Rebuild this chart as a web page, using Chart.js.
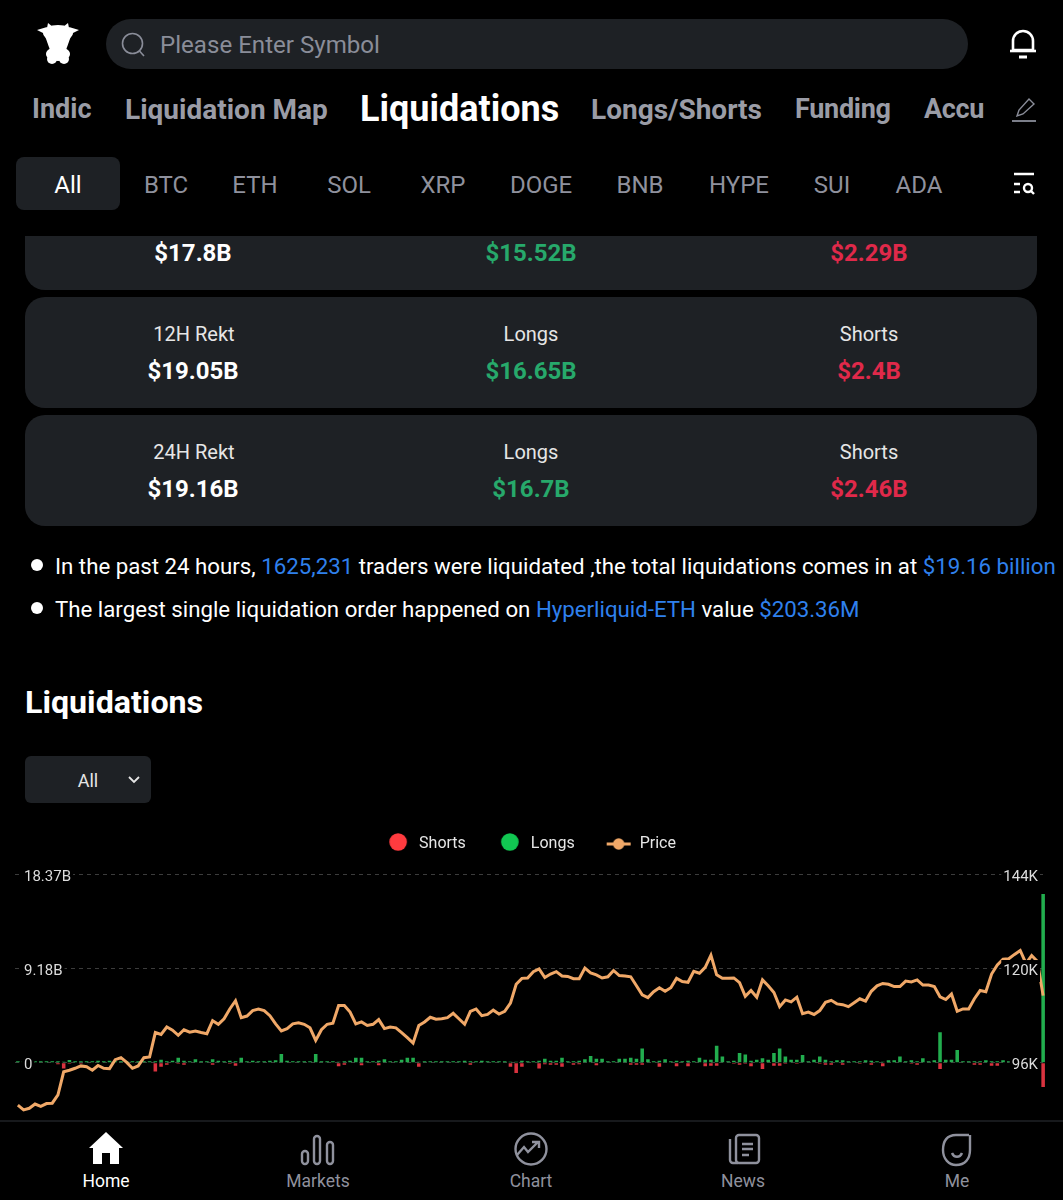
<!DOCTYPE html>
<html>
<head>
<meta charset="utf-8">
<title>Liquidations</title>
<script src="https://cdn.jsdelivr.net/npm/chart.js@4"></script>
<style>
  html, body { margin: 0; padding: 0; background: #000; }
  body { position: relative; width: 1063px; height: 1200px; overflow: hidden; font-family: Roboto, sans-serif; color: #fff; }
  .t { position: absolute; white-space: nowrap; transform: translateY(-50%); }
  .c { position: absolute; white-space: nowrap; transform: translate(-50%, -50%); }
  .box { position: absolute; background: #1e2125; }
  .tab { font-size: 27px; font-weight: 700; color: #9a9ca6; top: 109px; }
  .coin { font-size: 24px; color: #8f919d; top: 185px; }
  .lbl { font-size: 20px; color: #e6e6e6; }
  .val { font-size: 24px; font-weight: 700; }
  .green { color: #27a96b; }
  .red { color: #e0294a; }
  .note { font-size: 22.25px; left: 55px; }
  .note b { font-weight: 400; color: #2f80ed; }
  .dot { position: absolute; left: 31px; width: 12px; height: 12px; border-radius: 50%; background: #fff; }
  .nav { font-size: 17.5px; color: #8f919d; top: 1181px; }
  svg { position: absolute; }
  #wrap { position: absolute; left: 0; top: 800px; width: 1063px; height: 400px; }
  #navbar { position: absolute; left: 0; top: 1120px; width: 1063px; height: 80px; background: #000; border-top: 2px solid #17191c; box-sizing: border-box; }
</style>
</head>
<body>

<svg style="left:34px;top:20px" width="48" height="48" viewBox="0 0 48 48" fill="#fff">
  <ellipse cx="24" cy="13" rx="15" ry="8"/>
  <path d="M3 10 L13 7 L11 14 Z M45 10 L35 7 L37 14 Z M14 3 L19 7 L13 8 Z M34 3 L29 7 L35 8 Z"/>
  <path d="M11 16 L37 16 L32 30 L16 30 Z"/>
  <ellipse cx="24" cy="34" rx="12" ry="7"/>
  <ellipse cx="18" cy="39" rx="5" ry="5"/>
  <ellipse cx="30" cy="39" rx="5" ry="5"/>
</svg>

<div class="box" style="left:106px;top:19px;width:862px;height:50px;border-radius:25px"></div>
<svg style="left:120px;top:31px" width="26" height="26" viewBox="0 0 26 26" fill="none" stroke="#8a8d99" stroke-width="1.6">
  <circle cx="12.5" cy="12.5" r="10"/><path d="M19.5 20 L24 25"/>
</svg>
<div class="t" style="left:160px;top:45px;font-size:24.1px;color:#8a8d99">Please Enter Symbol</div>
<svg style="left:1008px;top:28px" width="30" height="32" viewBox="0 0 30 32" fill="none" stroke="#fff" stroke-width="2.6">
  <path d="M5 22 V13 a10 10 0 0 1 20 0 V22 Z" stroke-linejoin="round"/><path d="M2 23 H28"/><path d="M11 29 H19" stroke-width="3"/>
</svg>

<div class="t tab" style="left:32px">Indic</div>
<div class="t tab" style="left:125px;font-size:28px">Liquidation Map</div>
<div class="t" style="left:360px;top:109px;font-size:36px;font-weight:700;color:#fff">Liquidations</div>
<div class="t tab" style="left:591px;font-size:28px">Longs/Shorts</div>
<div class="t tab" style="left:795px;letter-spacing:-0.3px">Funding</div>
<div class="t tab" style="left:924px;letter-spacing:-0.3px">Accu</div>
<svg style="left:1011px;top:97px" width="26" height="26" viewBox="0 0 26 26" fill="none" stroke="#8a8d99" stroke-width="1.4">
  <path d="M6 19 L8 13 L18 2 L23 7 L12 17 Z"/><path d="M1 24 H25" stroke-width="1.8"/>
</svg>

<div class="box" style="left:16px;top:157px;width:104px;height:53px;border-radius:8px"></div>
<div class="c" style="left:68px;top:185px;font-size:24px;color:#fff">All</div>
<div class="c coin" style="left:166px">BTC</div>
<div class="c coin" style="left:255px">ETH</div>
<div class="c coin" style="left:349px">SOL</div>
<div class="c coin" style="left:443px">XRP</div>
<div class="c coin" style="left:541px">DOGE</div>
<div class="c coin" style="left:640px">BNB</div>
<div class="c coin" style="left:739px">HYPE</div>
<div class="c coin" style="left:832px">SUI</div>
<div class="c coin" style="left:919px">ADA</div>
<svg style="left:1012px;top:172px" width="26" height="24" viewBox="0 0 26 24" fill="none" stroke="#fff" stroke-width="2.4">
  <path d="M2 2 H22 M2 12 H8 M2 20 H8"/><circle cx="16" cy="16" r="4"/><path d="M19 19 L22 22"/>
</svg>

<div class="box" style="left:25px;top:236px;width:1012px;height:54px;border-radius:0 0 20px 20px"></div>
<div class="c val" style="left:193px;top:253px">$17.8B</div>
<div class="c val green" style="left:531px;top:253px">$15.52B</div>
<div class="c val red" style="left:869px;top:253px">$2.29B</div>

<div class="box" style="left:25px;top:297px;width:1012px;height:111px;border-radius:20px"></div>
<div class="c lbl" style="left:194px;top:334px">12H Rekt</div>
<div class="c lbl" style="left:531px;top:334px">Longs</div>
<div class="c lbl" style="left:869px;top:334px">Shorts</div>
<div class="c val" style="left:193px;top:371px">$19.05B</div>
<div class="c val green" style="left:531px;top:371px">$16.65B</div>
<div class="c val red" style="left:869px;top:371px">$2.4B</div>

<div class="box" style="left:25px;top:415px;width:1012px;height:111px;border-radius:20px"></div>
<div class="c lbl" style="left:194px;top:452px">24H Rekt</div>
<div class="c lbl" style="left:531px;top:452px">Longs</div>
<div class="c lbl" style="left:869px;top:452px">Shorts</div>
<div class="c val" style="left:193px;top:489px">$19.16B</div>
<div class="c val green" style="left:531px;top:489px">$16.7B</div>
<div class="c val red" style="left:869px;top:489px">$2.46B</div>

<div class="dot" style="top:559px"></div>
<div class="t note" style="top:566px">In the past 24 hours, <b>1625,231</b> traders were liquidated ,the total liquidations comes in at <b>$19.16 billion</b></div>
<div class="dot" style="top:602px"></div>
<div class="t note" style="top:609px">The largest single liquidation order happened on <b>Hyperliquid-ETH</b> value <b>$203.36M</b></div>

<div class="t" style="left:25px;top:702px;font-size:32.2px;font-weight:700">Liquidations</div>

<div id="wrap"><canvas id="chart"></canvas></div>

<div class="box" style="left:25px;top:756px;width:126px;height:47px;border-radius:6px"></div>
<div class="c" style="left:88px;top:780px;font-size:18px;color:#e6e6e6">All</div>
<svg style="left:128px;top:776px" width="12" height="8" viewBox="0 0 12 8" fill="none" stroke="#e6e6e6" stroke-width="1.8"><path d="M1 1 L6 6 L11 1"/></svg>

<div id="navbar"></div>
<svg style="left:88px;top:1131px" width="36" height="34" viewBox="0 0 36 34" fill="#fff">
  <path d="M18 1 L35 17 L31 17 L31 33 L22 33 L22 22 L14 22 L14 33 L5 33 L5 17 L1 17 Z"/>
</svg>
<svg style="left:300px;top:1134px" width="36" height="32" viewBox="0 0 36 32" fill="none" stroke="#8f919d" stroke-width="2.4">
  <rect x="2" y="17" width="6" height="13" rx="3"/><rect x="14" y="2" width="6" height="28" rx="3"/><rect x="27" y="8" width="6" height="22" rx="3"/>
</svg>
<svg style="left:513px;top:1131px" width="36" height="36" viewBox="0 0 36 36" fill="none" stroke="#8f919d" stroke-width="2.4">
  <circle cx="18" cy="18" r="15.5"/><path d="M4 24 L11 16 L15 21 L25 11 M19 11 H26 V17"/>
</svg>
<svg style="left:727px;top:1133px" width="36" height="32" viewBox="0 0 36 32" fill="none" stroke="#8f919d" stroke-width="2.4">
  <rect x="9" y="2" width="23" height="28" rx="3"/><path d="M3 6 V27 a3 3 0 0 0 3 3 H11 M15 11 H26 M15 16 H26 M15 22 H22"/>
</svg>
<svg style="left:941px;top:1133px" width="32" height="34" viewBox="0 0 32 34" fill="none" stroke="#8f919d" stroke-width="2.4">
  <path d="M28 2 H15 C6 2 2 8 2 17 C2 26 8 32 15 32 C24 32 29 26 29 17 V2"/><path d="M11 20 C13 25 19 25 21 20"/>
</svg>
<div class="c nav" style="left:106px;color:#fff">Home</div>
<div class="c nav" style="left:318px">Markets</div>
<div class="c nav" style="left:531px">Chart</div>
<div class="c nav" style="left:743px">News</div>
<div class="c nav" style="left:957px">Me</div>

<script>
// billions
const longs = [
  .15, .15, .15, .15, .15, .15, .15, .15, .1, .26,
  .15, .15, .15, .15, .2, .15, .2, .15, .15, .15,
  .15, .15, .15, .15, .15, .3, .15, .2, .5, .2,
  .15, .35, .15, .15, .35, .2, .15, .2, .15, .5,
  .15, .2, .15, .15, .2, .25, .85, .2, .15, .15,
  .15, .15, .85, .15, .15, .15, .1, .15, .2, .5,
  .5, .15, .15, .2, .35, .15, .15, .3, .5, .5,
  .1, .15, .15, .15, .15, .15, .15, .15, .2, .15,
  .15, .2, .15, .15, .15, .15, .1, .1, .2, .15,
  .15, .2, .4, .2, .2, .5, .15, .15, .2, .35,
  .65, .4, .4, .15, .15, .4, .4, .5, .4, 1.4,
  .35, .15, .2, .35, .15, .2, .15, .2, .15, .5,
  .3, .3, 1.65, .6, .15, .2, .95, .8, .2, .3,
  .45, .3, .95, 1.4, .6, .3, .3, .75, .15, .3,
  .6, .3, .15, .25, .25, .15, .15, .15, .25, .2,
  .15, .1, .25, .25, .6, .15, .25, .15, .45, .15,
  .25, 2.98, .3, .3, 1.25, .15, .15, .15, .15, .25,
  .15, .15, .25, .15, .15, .15, .15, .15, .6, 16.45
]

const shorts = [
  0, 0, 0, 0, 0, 0, 0, -.15, -.55, -.1,
  0, -.1, 0, 0, 0, 0, 0, 0, 0, 0,
  0, 0, 0, 0, -.85, -.4, -.2, 0, -.1, -.2,
  0, 0, 0, 0, -.2, 0, 0, -.1, -.3, 0,
  0, 0, 0, 0, 0, 0, 0, 0, 0, 0,
  0, 0, 0, 0, 0, 0, -.35, -.2, 0, 0,
  -.25, 0, 0, -.25, 0, 0, 0, 0, 0, 0,
  -.4, 0, 0, 0, 0, 0, 0, 0, 0, -.2,
  0, 0, 0, 0, 0, 0, -.4, -1, -.4, 0,
  0, -.55, -.15, -.2, -.2, -.4, 0, -.2, -.15, 0,
  0, -.25, 0, 0, 0, 0, 0, -.2, -.2, -.2,
  0, 0, -.4, 0, 0, -.35, 0, -.35, 0, 0,
  -.35, -.3, -.3, 0, 0, -.1, -.2, -.1, -.35, 0,
  -.6, 0, -.3, -.3, -.1, 0, -.1, 0, 0, 0,
  -.1, -.2, -.2, 0, -.2, 0, 0, -.1, 0, -.2,
  0, -.35, 0, 0, 0, 0, -.1, -.2, 0, 0,
  0, -.6, 0, 0, 0, 0, 0, -.2, -.2, 0,
  -.3, -.3, 0, 0, 0, 0, 0, 0, 0, -2.36
]

// thousands of dollars
const price = [
  85.2, 84.0, 84.4, 85.5, 84.9, 85.6, 85.7, 87.8, 93.7, 94.1,
  94.6, 95.2, 95.0, 94.1, 95.3, 94.6, 94.5, 96.8, 97.3, 96.1,
  94.6, 95.2, 97.3, 97.5, 103.7, 103.2, 105.1, 104.3, 103.0, 104.4,
  103.8, 104.1, 103.7, 103.4, 106.7, 105.8, 107.2, 109.7, 111.8, 107.5,
  107.9, 109.3, 109.7, 109.3, 108.0, 105.9, 104.1, 104.7, 105.9, 106.2,
  105.8, 104.9, 101.7, 104.4, 105.8, 106.1, 110.6, 110.6, 108.9, 105.9,
  106.4, 105.5, 105.8, 107.0, 104.7, 105.1, 104.9, 103.7, 102.4, 101.0,
  105.5, 106.4, 107.6, 107.1, 107.2, 107.5, 108.6, 107.2, 105.8, 109.1,
  109.7, 108.0, 108.3, 109.4, 108.4, 109.1, 111.2, 116.0, 117.5, 117.6,
  119.2, 119.9, 117.7, 118.6, 119.2, 118.1, 118.0, 117.4, 117.4, 120.1,
  118.9, 118.4, 117.6, 117.9, 119.5, 118.2, 118.1, 117.9, 115.6, 113.3,
  112.6, 114.1, 115.1, 114.2, 115.1, 117.5, 116.7, 116.5, 119.3, 118.8,
  120.3, 123.4, 118.4, 117.5, 117.5, 117.6, 116.4, 112.9, 114.4, 112.7,
  117.1, 115.6, 113.9, 110.3, 112.0, 111.5, 112.7, 108.5, 108.9, 108.3,
  109.3, 111.4, 111.9, 111.0, 110.8, 110.3, 111.3, 112.3, 111.7, 114.2,
  115.6, 116.2, 116.0, 115.4, 115.4, 116.8, 116.6, 117.1, 115.8, 115.8,
  115.4, 112.8, 112.1, 113.5, 109.1, 109.7, 109.7, 112.3, 114.4, 114.1,
  118.6, 120.9, 122.4, 122.5, 123.6, 124.6, 121.3, 123.3, 121.8, 113.1
]

const categories = price.map((_, i) => i)
const leftTickLabels = ["", "0", "9.18B", "18.37B"]
const rightTickLabels = ["", "96K", "120K", "144K"]

function legendIcon(kind, color) {
  const c = document.createElement("canvas")
  c.width = 26
  c.height = 22
  const ctx = c.getContext("2d")
  ctx.fillStyle = color
  ctx.strokeStyle = color
  if (kind === "line") {
    ctx.lineWidth = 3
    ctx.beginPath()
    ctx.moveTo(1, 11)
    ctx.lineTo(25, 11)
    ctx.stroke()
    ctx.beginPath()
    ctx.arc(13, 11, 5.7, 0, Math.PI * 2)
    ctx.fill()
  } else {
    ctx.beginPath()
    ctx.arc(13, 9, 8.8, 0, Math.PI * 2)
    ctx.fill()
  }
  return c
}

const axisTicks = {
  mirror: true,
  color: "#dcdcdc",
  font: { family: "Roboto", size: 15 },
  showLabelBackdrop: true,
  backdropColor: "#000",
  backdropPadding: 2,
  labelOffset: 2.5,
  z: 1
}

// legend sits close above the plot, so trim the height chart.js reserves for it
const legendHeight = {
  id: "legendHeight",
  beforeInit(chart) {
    const fit = chart.legend.fit
    chart.legend.fit = function () {
      fit.call(this)
      this.height = 69.3
    }
  }
}

// labels sit inside the plot, the axes take no room of their own
const noAxisWidth = (scale) => { scale.width = 0 }

new Chart(document.getElementById("chart"), {
  data: {
    labels: categories,
    datasets: [
      { type: "bar", label: "Shorts", data: shorts, backgroundColor: "#d9333f", yAxisID: "y", stack: "liq", order: 2, barPercentage: 0.62, categoryPercentage: 1 },
      { type: "bar", label: "Longs", data: longs, backgroundColor: "#22ad4e", yAxisID: "y", stack: "liq", order: 2, barPercentage: 0.62, categoryPercentage: 1 },
      { type: "line", label: "Price", data: price, borderColor: "#f0a868", borderWidth: 3, pointRadius: 0, tension: 0, yAxisID: "y1", order: 1 }
    ]
  },
  plugins: [legendHeight],
  options: {
    responsive: true,
    maintainAspectRatio: false,
    animation: false,
    layout: { padding: { left: 15, right: 17, top: 5, bottom: 43 } },
    plugins: {
      tooltip: { enabled: false },
      legend: {
        position: "top",
        labels: {
          usePointStyle: true,
          pointStyleWidth: 26,
          padding: 31,
          color: "#e6e6e6",
          font: { family: "Roboto", size: 16 },
          generateLabels: () => [
            { text: "Shorts", pointStyle: legendIcon("dot", "#ff3b3f"), fontColor: "#e6e6e6", datasetIndex: 0, lineWidth: 0 },
            { text: "Longs", pointStyle: legendIcon("dot", "#11c752"), fontColor: "#e6e6e6", datasetIndex: 1, lineWidth: 0 },
            { text: "Price", pointStyle: legendIcon("line", "#f0a868"), fontColor: "#e6e6e6", datasetIndex: 2, lineWidth: 0 }
          ]
        }
      }
    },
    scales: {
      x: { display: false, stacked: true },
      y: {
        position: "left",
        stacked: true,
        min: -9.185,
        max: 18.37,
        afterFit: noAxisWidth,
        ticks: { ...axisTicks, stepSize: 9.185, padding: 9, callback: (v, i) => leftTickLabels[i] },
        grid: { color: "#3c3c3c", drawTicks: false },
        border: { display: false, dash: [4, 4] }
      },
      y1: {
        position: "right",
        min: 72,
        max: 144,
        afterFit: noAxisWidth,
        ticks: { ...axisTicks, stepSize: 24, padding: -8, callback: (v, i) => rightTickLabels[i] },
        grid: { display: false, drawTicks: false },
        border: { display: false }
      }
    }
  }
})
</script>
</body>
</html>
